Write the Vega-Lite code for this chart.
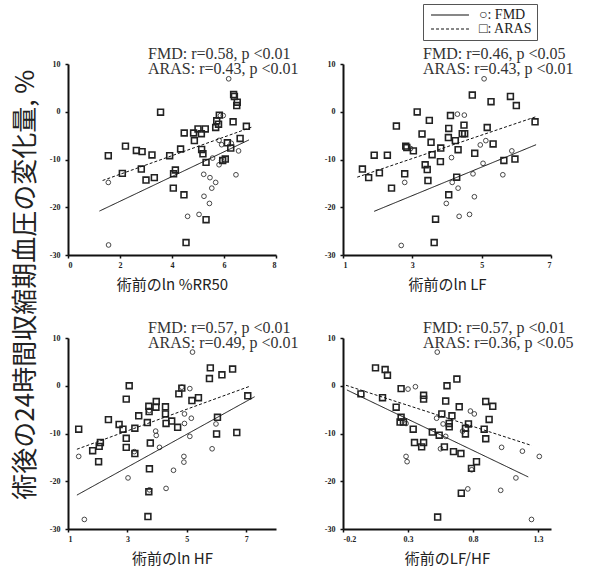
{
"$schema": "https://vega.github.io/schema/vega-lite/v6.json",
"background": "white",
"padding": {"left": 13, "top": 3, "right": 5, "bottom": 5},
"title": {"text": "術後の24時間収縮期血圧の変化量, %", "orient": "left", "anchor": "middle", "frame": "bounds", "font": "Noto Sans CJK JP", "fontSize": 26, "fontWeight": "normal", "color": "#222", "dx": 0, "offset": 10},
"datasets": {
"pts": [
{"panel":"p1","group":"ARAS","x":1.55,"y":-9.2},{"panel":"p1","group":"ARAS","x":2.21,"y":-7.2},{"panel":"p1","group":"ARAS","x":2.09,"y":-12.9},{"panel":"p1","group":"ARAS","x":2.63,"y":-8.1},{"panel":"p1","group":"ARAS","x":2.85,"y":-8.35},{"panel":"p1","group":"ARAS","x":2.82,"y":-12.0},{"panel":"p1","group":"ARAS","x":3.0,"y":-14.3},{"panel":"p1","group":"ARAS","x":3.23,"y":-9.05},{"panel":"p1","group":"ARAS","x":3.32,"y":-13.8},{"panel":"p1","group":"ARAS","x":3.56,"y":-0.1},{"panel":"p1","group":"ARAS","x":3.91,"y":-9.2},{"panel":"p1","group":"ARAS","x":4.05,"y":-16.0},{"panel":"p1","group":"ARAS","x":4.13,"y":-12.2},{"panel":"p1","group":"ARAS","x":4.06,"y":-13.0},{"panel":"p1","group":"ARAS","x":4.33,"y":-7.8},{"panel":"p1","group":"ARAS","x":4.47,"y":-4.45},{"panel":"p1","group":"ARAS","x":4.46,"y":-17.4},{"panel":"p1","group":"ARAS","x":4.54,"y":-27.4},{"panel":"p1","group":"ARAS","x":4.86,"y":-6.05},{"panel":"p1","group":"ARAS","x":4.83,"y":-4.45},{"panel":"p1","group":"ARAS","x":5.0,"y":-3.6},{"panel":"p1","group":"ARAS","x":5.13,"y":-4.6},{"panel":"p1","group":"ARAS","x":5.28,"y":-3.6},{"panel":"p1","group":"ARAS","x":5.14,"y":-7.9},{"panel":"p1","group":"ARAS","x":5.19,"y":-8.8},{"panel":"p1","group":"ARAS","x":5.31,"y":-10.6},{"panel":"p1","group":"ARAS","x":5.31,"y":-22.6},{"panel":"p1","group":"ARAS","x":5.68,"y":-3.3},{"panel":"p1","group":"ARAS","x":5.72,"y":-1.9},{"panel":"p1","group":"ARAS","x":5.79,"y":-2.6},{"panel":"p1","group":"ARAS","x":5.82,"y":-0.7},{"panel":"p1","group":"ARAS","x":6.05,"y":-9.9},{"panel":"p1","group":"ARAS","x":5.95,"y":-10.2},{"panel":"p1","group":"ARAS","x":6.26,"y":-7.6},{"panel":"p1","group":"ARAS","x":6.13,"y":-6.5},{"panel":"p1","group":"ARAS","x":6.35,"y":-2.1},{"panel":"p1","group":"ARAS","x":6.37,"y":3.6},{"panel":"p1","group":"ARAS","x":6.4,"y":3.2},{"panel":"p1","group":"ARAS","x":6.51,"y":2.0},{"panel":"p1","group":"ARAS","x":6.49,"y":1.3},{"panel":"p1","group":"ARAS","x":6.62,"y":-5.6},{"panel":"p1","group":"ARAS","x":6.86,"y":-3.05},
{"panel":"p1","group":"FMD","x":1.55,"y":-14.8},{"panel":"p1","group":"FMD","x":1.56,"y":-27.9},{"panel":"p1","group":"FMD","x":4.6,"y":-21.9},{"panel":"p1","group":"FMD","x":5.04,"y":-21.5},{"panel":"p1","group":"FMD","x":5.22,"y":-13.1},{"panel":"p1","group":"FMD","x":5.46,"y":-13.8},{"panel":"p1","group":"FMD","x":5.68,"y":-14.8},{"panel":"p1","group":"FMD","x":5.53,"y":-16.0},{"panel":"p1","group":"FMD","x":5.23,"y":-17.7},{"panel":"p1","group":"FMD","x":5.44,"y":-19.2},{"panel":"p1","group":"FMD","x":5.56,"y":-9.7},{"panel":"p1","group":"FMD","x":5.81,"y":-11.1},{"panel":"p1","group":"FMD","x":5.91,"y":-10.2},{"panel":"p1","group":"FMD","x":5.81,"y":-6.0},{"panel":"p1","group":"FMD","x":5.91,"y":-6.9},{"panel":"p1","group":"FMD","x":5.97,"y":-0.8},{"panel":"p1","group":"FMD","x":5.86,"y":-0.8},{"panel":"p1","group":"FMD","x":6.18,"y":6.9},{"panel":"p1","group":"FMD","x":6.56,"y":-8.2},{"panel":"p1","group":"FMD","x":6.46,"y":-13.2},{"panel":"p1","group":"FMD","x":6.28,"y":-6.6},
{"panel":"p2","group":"ARAS","x":1.56,"y":-12.0},{"panel":"p2","group":"ARAS","x":1.74,"y":-13.8},{"panel":"p2","group":"ARAS","x":1.9,"y":-9.1},{"panel":"p2","group":"ARAS","x":2.05,"y":-12.8},{"panel":"p2","group":"ARAS","x":2.28,"y":-9.1},{"panel":"p2","group":"ARAS","x":2.4,"y":-16.0},{"panel":"p2","group":"ARAS","x":2.54,"y":-3.0},{"panel":"p2","group":"ARAS","x":2.78,"y":-13.0},{"panel":"p2","group":"ARAS","x":2.81,"y":-7.2},{"panel":"p2","group":"ARAS","x":2.84,"y":-7.5},{"panel":"p2","group":"ARAS","x":3.03,"y":-8.2},{"panel":"p2","group":"ARAS","x":3.14,"y":-0.05},{"panel":"p2","group":"ARAS","x":3.28,"y":-4.65},{"panel":"p2","group":"ARAS","x":3.37,"y":-11.1},{"panel":"p2","group":"ARAS","x":3.43,"y":-12.1},{"panel":"p2","group":"ARAS","x":3.45,"y":-14.4},{"panel":"p2","group":"ARAS","x":3.49,"y":-1.8},{"panel":"p2","group":"ARAS","x":3.54,"y":-6.4},{"panel":"p2","group":"ARAS","x":3.57,"y":-9.0},{"panel":"p2","group":"ARAS","x":3.67,"y":-22.5},{"panel":"p2","group":"ARAS","x":3.63,"y":-27.4},{"panel":"p2","group":"ARAS","x":3.82,"y":-7.6},{"panel":"p2","group":"ARAS","x":3.81,"y":-10.45},{"panel":"p2","group":"ARAS","x":4.05,"y":-3.5},{"panel":"p2","group":"ARAS","x":4.04,"y":-5.4},{"panel":"p2","group":"ARAS","x":4.1,"y":-0.8},{"panel":"p2","group":"ARAS","x":4.24,"y":-6.05},{"panel":"p2","group":"ARAS","x":4.28,"y":-13.7},{"panel":"p2","group":"ARAS","x":4.32,"y":-7.95},{"panel":"p2","group":"ARAS","x":4.05,"y":-17.4},{"panel":"p2","group":"ARAS","x":4.44,"y":-4.6},{"panel":"p2","group":"ARAS","x":4.49,"y":-2.8},{"panel":"p2","group":"ARAS","x":4.51,"y":-4.6},{"panel":"p2","group":"ARAS","x":4.73,"y":3.5},{"panel":"p2","group":"ARAS","x":4.8,"y":-8.7},{"panel":"p2","group":"ARAS","x":5.16,"y":-3.3},{"panel":"p2","group":"ARAS","x":5.27,"y":2.1},{"panel":"p2","group":"ARAS","x":5.33,"y":-6.75},{"panel":"p2","group":"ARAS","x":5.64,"y":-10.2},{"panel":"p2","group":"ARAS","x":5.83,"y":3.2},{"panel":"p2","group":"ARAS","x":5.96,"y":-9.9},{"panel":"p2","group":"ARAS","x":6.0,"y":1.3},{"panel":"p2","group":"ARAS","x":6.54,"y":-2.1},
{"panel":"p2","group":"FMD","x":2.68,"y":-28.0},{"panel":"p2","group":"FMD","x":2.78,"y":-14.8},{"panel":"p2","group":"FMD","x":2.95,"y":-7.7},{"panel":"p2","group":"FMD","x":3.98,"y":-19.2},{"panel":"p2","group":"FMD","x":4.13,"y":-9.6},{"panel":"p2","group":"FMD","x":4.15,"y":-14.8},{"panel":"p2","group":"FMD","x":4.3,"y":-0.5},{"panel":"p2","group":"FMD","x":4.32,"y":-16.0},{"panel":"p2","group":"FMD","x":4.35,"y":-21.9},{"panel":"p2","group":"FMD","x":4.5,"y":-0.7},{"panel":"p2","group":"FMD","x":4.65,"y":-21.5},{"panel":"p2","group":"FMD","x":4.75,"y":-13.0},{"panel":"p2","group":"FMD","x":4.79,"y":-17.8},{"panel":"p2","group":"FMD","x":4.96,"y":-6.95},{"panel":"p2","group":"FMD","x":5.04,"y":-10.8},{"panel":"p2","group":"FMD","x":5.12,"y":-6.05},{"panel":"p2","group":"FMD","x":5.07,"y":6.9},{"panel":"p2","group":"FMD","x":5.61,"y":-13.2},{"panel":"p2","group":"FMD","x":5.87,"y":-8.2},
{"panel":"p3","group":"ARAS","x":1.36,"y":-9.1},{"panel":"p3","group":"ARAS","x":1.83,"y":-13.6},{"panel":"p3","group":"ARAS","x":2.03,"y":-15.9},{"panel":"p3","group":"ARAS","x":2.09,"y":-11.9},{"panel":"p3","group":"ARAS","x":2.05,"y":-12.7},{"panel":"p3","group":"ARAS","x":2.36,"y":-7.1},{"panel":"p3","group":"ARAS","x":2.72,"y":-8.1},{"panel":"p3","group":"ARAS","x":2.85,"y":-9.1},{"panel":"p3","group":"ARAS","x":2.96,"y":-2.8},{"panel":"p3","group":"ARAS","x":2.96,"y":-11.0},{"panel":"p3","group":"ARAS","x":2.96,"y":-12.9},{"panel":"p3","group":"ARAS","x":3.06,"y":0.0},{"panel":"p3","group":"ARAS","x":3.25,"y":-8.9},{"panel":"p3","group":"ARAS","x":3.25,"y":-14.2},{"panel":"p3","group":"ARAS","x":3.38,"y":-6.3},{"panel":"p3","group":"ARAS","x":3.67,"y":-7.7},{"panel":"p3","group":"ARAS","x":3.72,"y":-4.3},{"panel":"p3","group":"ARAS","x":3.73,"y":-5.4},{"panel":"p3","group":"ARAS","x":3.77,"y":-12.0},{"panel":"p3","group":"ARAS","x":3.74,"y":-17.4},{"panel":"p3","group":"ARAS","x":3.72,"y":-22.2},{"panel":"p3","group":"ARAS","x":3.69,"y":-27.4},{"panel":"p3","group":"ARAS","x":3.97,"y":-3.3},{"panel":"p3","group":"ARAS","x":3.96,"y":-4.5},{"panel":"p3","group":"ARAS","x":4.28,"y":-4.4},{"panel":"p3","group":"ARAS","x":4.28,"y":-5.9},{"panel":"p3","group":"ARAS","x":4.3,"y":-7.9},{"panel":"p3","group":"ARAS","x":4.49,"y":-7.4},{"panel":"p3","group":"ARAS","x":4.69,"y":-8.7},{"panel":"p3","group":"ARAS","x":4.73,"y":-1.7},{"panel":"p3","group":"ARAS","x":4.83,"y":-0.5},{"panel":"p3","group":"ARAS","x":5.17,"y":-3.1},{"panel":"p3","group":"ARAS","x":5.39,"y":-2.5},{"panel":"p3","group":"ARAS","x":5.76,"y":1.5},{"panel":"p3","group":"ARAS","x":5.79,"y":3.75},{"panel":"p3","group":"ARAS","x":6.03,"y":-6.6},{"panel":"p3","group":"ARAS","x":6.0,"y":-10.1},{"panel":"p3","group":"ARAS","x":6.18,"y":2.3},{"panel":"p3","group":"ARAS","x":6.54,"y":3.5},{"panel":"p3","group":"ARAS","x":6.68,"y":-9.8},{"panel":"p3","group":"ARAS","x":7.05,"y":-2.1},
{"panel":"p3","group":"FMD","x":1.36,"y":-14.8},{"panel":"p3","group":"FMD","x":1.55,"y":-28.0},{"panel":"p3","group":"FMD","x":3.02,"y":-19.3},{"panel":"p3","group":"FMD","x":3.23,"y":-13.8},{"panel":"p3","group":"FMD","x":3.73,"y":-5.2},{"panel":"p3","group":"FMD","x":3.74,"y":-21.8},{"panel":"p3","group":"FMD","x":3.95,"y":-9.5},{"panel":"p3","group":"FMD","x":3.97,"y":-10.4},{"panel":"p3","group":"FMD","x":4.08,"y":-12.9},{"panel":"p3","group":"FMD","x":4.3,"y":-21.5},{"panel":"p3","group":"FMD","x":4.55,"y":-17.7},{"panel":"p3","group":"FMD","x":4.9,"y":-14.8},{"panel":"p3","group":"FMD","x":4.9,"y":-16.0},{"panel":"p3","group":"FMD","x":4.92,"y":-5.9},{"panel":"p3","group":"FMD","x":4.92,"y":-7.9},{"panel":"p3","group":"FMD","x":4.83,"y":-0.3},{"panel":"p3","group":"FMD","x":5.1,"y":-0.6},{"panel":"p3","group":"FMD","x":5.15,"y":-6.8},{"panel":"p3","group":"FMD","x":5.1,"y":-10.6},{"panel":"p3","group":"FMD","x":5.19,"y":7.05},{"panel":"p3","group":"FMD","x":5.85,"y":-13.2},{"panel":"p3","group":"FMD","x":5.98,"y":-8.0},
{"panel":"p4","group":"ARAS","x":-0.062,"y":-1.7},{"panel":"p4","group":"ARAS","x":0.05,"y":3.75},{"panel":"p4","group":"ARAS","x":0.124,"y":3.4},{"panel":"p4","group":"ARAS","x":0.142,"y":2.2},{"panel":"p4","group":"ARAS","x":0.104,"y":-2.5},{"panel":"p4","group":"ARAS","x":0.209,"y":-4.5},{"panel":"p4","group":"ARAS","x":0.247,"y":-0.6},{"panel":"p4","group":"ARAS","x":0.239,"y":-7.6},{"panel":"p4","group":"ARAS","x":0.265,"y":-7.6},{"panel":"p4","group":"ARAS","x":0.247,"y":-6.6},{"panel":"p4","group":"ARAS","x":0.34,"y":-9.1},{"panel":"p4","group":"ARAS","x":0.35,"y":-11.9},{"panel":"p4","group":"ARAS","x":0.42,"y":-11.9},{"panel":"p4","group":"ARAS","x":0.405,"y":-12.8},{"panel":"p4","group":"ARAS","x":0.42,"y":-2.0},{"panel":"p4","group":"ARAS","x":0.42,"y":-2.8},{"panel":"p4","group":"ARAS","x":0.487,"y":-9.7},{"panel":"p4","group":"ARAS","x":0.54,"y":-10.35},{"panel":"p4","group":"ARAS","x":0.528,"y":-27.5},{"panel":"p4","group":"ARAS","x":0.59,"y":-3.2},{"panel":"p4","group":"ARAS","x":0.6,"y":0.0},{"panel":"p4","group":"ARAS","x":0.56,"y":-5.9},{"panel":"p4","group":"ARAS","x":0.617,"y":-7.9},{"panel":"p4","group":"ARAS","x":0.617,"y":-8.6},{"panel":"p4","group":"ARAS","x":0.638,"y":-6.3},{"panel":"p4","group":"ARAS","x":0.58,"y":-12.8},{"panel":"p4","group":"ARAS","x":0.65,"y":-13.8},{"panel":"p4","group":"ARAS","x":0.676,"y":1.4},{"panel":"p4","group":"ARAS","x":0.694,"y":-4.4},{"panel":"p4","group":"ARAS","x":0.707,"y":-14.2},{"panel":"p4","group":"ARAS","x":0.71,"y":-22.5},{"panel":"p4","group":"ARAS","x":0.765,"y":-8.0},{"panel":"p4","group":"ARAS","x":0.742,"y":-8.9},{"panel":"p4","group":"ARAS","x":0.742,"y":-10.1},{"panel":"p4","group":"ARAS","x":0.827,"y":-15.9},{"panel":"p4","group":"ARAS","x":0.788,"y":-17.3},{"panel":"p4","group":"ARAS","x":0.886,"y":-9.1},{"panel":"p4","group":"ARAS","x":0.898,"y":-11.1},{"panel":"p4","group":"ARAS","x":0.898,"y":-3.3},{"panel":"p4","group":"ARAS","x":0.924,"y":-7.05},{"panel":"p4","group":"ARAS","x":0.952,"y":-4.3},
{"panel":"p4","group":"FMD","x":0.525,"y":7.05},{"panel":"p4","group":"FMD","x":0.3,"y":-0.7},{"panel":"p4","group":"FMD","x":0.357,"y":-0.2},{"panel":"p4","group":"FMD","x":0.285,"y":-14.8},{"panel":"p4","group":"FMD","x":0.293,"y":-15.9},{"panel":"p4","group":"FMD","x":0.285,"y":-7.9},{"panel":"p4","group":"FMD","x":0.52,"y":-6.8},{"panel":"p4","group":"FMD","x":0.57,"y":-8.0},{"panel":"p4","group":"FMD","x":0.59,"y":-10.6},{"panel":"p4","group":"FMD","x":0.55,"y":-13.2},{"panel":"p4","group":"FMD","x":0.78,"y":-5.3},{"panel":"p4","group":"FMD","x":0.81,"y":-5.9},{"panel":"p4","group":"FMD","x":0.72,"y":-9.5},{"panel":"p4","group":"FMD","x":0.79,"y":-17.6},{"panel":"p4","group":"FMD","x":0.76,"y":-21.6},{"panel":"p4","group":"FMD","x":1.013,"y":-21.9},{"panel":"p4","group":"FMD","x":1.02,"y":-12.9},{"panel":"p4","group":"FMD","x":1.18,"y":-13.7},{"panel":"p4","group":"FMD","x":1.13,"y":-19.3},{"panel":"p4","group":"FMD","x":1.25,"y":-28.0},{"panel":"p4","group":"FMD","x":1.31,"y":-14.8}
],
"fit": [
{"panel":"p1","group":"FMD","x":1.21,"y":-20.8},{"panel":"p1","group":"FMD","x":6.96,"y":-5.9},{"panel":"p1","group":"ARAS","x":1.33,"y":-14.4},{"panel":"p1","group":"ARAS","x":7.08,"y":-3.2},
{"panel":"p2","group":"FMD","x":1.9,"y":-20.85},{"panel":"p2","group":"FMD","x":6.57,"y":-6.9},{"panel":"p2","group":"ARAS","x":1.41,"y":-13.7},{"panel":"p2","group":"ARAS","x":6.6,"y":-0.96},
{"panel":"p3","group":"FMD","x":1.3,"y":-22.9},{"panel":"p3","group":"FMD","x":7.28,"y":-2.3},{"panel":"p3","group":"ARAS","x":1.3,"y":-13.3},{"panel":"p3","group":"ARAS","x":7.1,"y":-0.15},
{"panel":"p4","group":"FMD","x":-0.17,"y":-0.88},{"panel":"p4","group":"FMD","x":1.225,"y":-19.1},{"panel":"p4","group":"ARAS","x":-0.177,"y":0.1},{"panel":"p4","group":"ARAS","x":1.25,"y":-12.5}
]
},
"columns": 2,
"spacing": {"row": 83, "column": 67},
"bounds": "flush",
"resolve": {"scale": {"x": "independent", "y": "independent"}},
"concat": [
{
"width": 208, "height": 191,
"title": {"text": ["FMD: r=0.58, p <0.01", "ARAS: r=0.43, p <0.01"]},
"layer": [
{"data": {"name": "pts"}, "transform": [{"filter": "datum.panel == 'p1' && datum.group == 'FMD'"}],
 "mark": {"type": "point", "shape": "circle", "filled": false, "size": 22, "strokeWidth": 0.9, "color": "#333", "opacity": 1},
 "encoding": {"x": {"field": "x", "type": "quantitative", "scale": {"domain": [0, 8], "nice": false, "zero": false}, "axis": {"values": [0, 2, 4, 6, 8], "title": "術前のln %RR50"}}, "y": {"field": "y", "type": "quantitative", "scale": {"domain": [-30, 10], "nice": false}, "axis": {"values": [-30, -20, -10, 0, 10]}}}},
{"data": {"name": "pts"}, "transform": [{"filter": "datum.panel == 'p1' && datum.group == 'ARAS'"}],
 "mark": {"type": "point", "shape": "square", "filled": false, "size": 34, "strokeWidth": 1.6, "color": "#222", "opacity": 1},
 "encoding": {"x": {"field": "x", "type": "quantitative"}, "y": {"field": "y", "type": "quantitative"}}},
{"data": {"name": "fit"}, "transform": [{"filter": "datum.panel == 'p1'"}],
 "mark": {"type": "line", "color": "#111", "strokeWidth": 1},
 "encoding": {"x": {"field": "x", "type": "quantitative"}, "y": {"field": "y", "type": "quantitative"},
  "strokeDash": {"field": "group", "type": "nominal", "scale": {"domain": ["FMD", "ARAS"], "range": [[1, 0], [3, 2]]}, "legend": {"title": null, "orient": "none", "legendX": 355, "legendY": -60, "labelExpr": "datum.label == 'FMD' ? '○: FMD' : '□: ARAS'"}}}}
]
},
{
"width": 208, "height": 191,
"title": {"text": ["FMD: r=0.46, p <0.05", "ARAS: r=0.43, p <0.01"]},
"layer": [
{"data": {"name": "pts"}, "transform": [{"filter": "datum.panel == 'p2' && datum.group == 'FMD'"}],
 "mark": {"type": "point", "shape": "circle", "filled": false, "size": 22, "strokeWidth": 0.9, "color": "#333", "opacity": 1},
 "encoding": {"x": {"field": "x", "type": "quantitative", "scale": {"domain": [1, 7], "nice": false, "zero": false}, "axis": {"values": [1, 3, 5, 7], "title": "術前のln LF"}}, "y": {"field": "y", "type": "quantitative", "scale": {"domain": [-30, 10], "nice": false}, "axis": {"values": [-30, -20, -10, 0, 10]}}}},
{"data": {"name": "pts"}, "transform": [{"filter": "datum.panel == 'p2' && datum.group == 'ARAS'"}],
 "mark": {"type": "point", "shape": "square", "filled": false, "size": 34, "strokeWidth": 1.6, "color": "#222", "opacity": 1},
 "encoding": {"x": {"field": "x", "type": "quantitative"}, "y": {"field": "y", "type": "quantitative"}}},
{"data": {"name": "fit"}, "transform": [{"filter": "datum.panel == 'p2'"}],
 "mark": {"type": "line", "color": "#111", "strokeWidth": 1},
 "encoding": {"x": {"field": "x", "type": "quantitative"}, "y": {"field": "y", "type": "quantitative"},
  "strokeDash": {"field": "group", "type": "nominal", "scale": {"domain": ["FMD", "ARAS"], "range": [[1, 0], [3, 2]]}, "legend": {"title": null, "orient": "none", "legendX": 355, "legendY": -60, "labelExpr": "datum.label == 'FMD' ? '○: FMD' : '□: ARAS'"}}}}
]
},
{
"width": 208, "height": 191,
"title": {"text": ["FMD: r=0.57, p <0.01", "ARAS: r=0.49, p <0.01"]},
"layer": [
{"data": {"name": "pts"}, "transform": [{"filter": "datum.panel == 'p3' && datum.group == 'FMD'"}],
 "mark": {"type": "point", "shape": "circle", "filled": false, "size": 22, "strokeWidth": 0.9, "color": "#333", "opacity": 1},
 "encoding": {"x": {"field": "x", "type": "quantitative", "scale": {"domain": [1, 8], "nice": false, "zero": false}, "axis": {"values": [1, 3, 5, 7], "title": "術前のln HF"}}, "y": {"field": "y", "type": "quantitative", "scale": {"domain": [-30, 10], "nice": false}, "axis": {"values": [-30, -20, -10, 0, 10]}}}},
{"data": {"name": "pts"}, "transform": [{"filter": "datum.panel == 'p3' && datum.group == 'ARAS'"}],
 "mark": {"type": "point", "shape": "square", "filled": false, "size": 34, "strokeWidth": 1.6, "color": "#222", "opacity": 1},
 "encoding": {"x": {"field": "x", "type": "quantitative"}, "y": {"field": "y", "type": "quantitative"}}},
{"data": {"name": "fit"}, "transform": [{"filter": "datum.panel == 'p3'"}],
 "mark": {"type": "line", "color": "#111", "strokeWidth": 1},
 "encoding": {"x": {"field": "x", "type": "quantitative"}, "y": {"field": "y", "type": "quantitative"},
  "strokeDash": {"field": "group", "type": "nominal", "scale": {"domain": ["FMD", "ARAS"], "range": [[1, 0], [3, 2]]}, "legend": {"title": null, "orient": "none", "legendX": 355, "legendY": -60, "labelExpr": "datum.label == 'FMD' ? '○: FMD' : '□: ARAS'"}}}}
]
},
{
"width": 208, "height": 191,
"title": {"text": ["FMD: r=0.57, p <0.01", "ARAS: r=0.36, p <0.05"]},
"layer": [
{"data": {"name": "pts"}, "transform": [{"filter": "datum.panel == 'p4' && datum.group == 'FMD'"}],
 "mark": {"type": "point", "shape": "circle", "filled": false, "size": 22, "strokeWidth": 0.9, "color": "#333", "opacity": 1},
 "encoding": {"x": {"field": "x", "type": "quantitative", "scale": {"domain": [-0.2, 1.4], "nice": false, "zero": false}, "axis": {"values": [-0.2, 0.3, 0.8, 1.3], "title": "術前のLF/HF", "labelExpr": "datum.value < 0 ? '-' + format(-datum.value, '.1f') : format(datum.value, '.1f')"}}, "y": {"field": "y", "type": "quantitative", "scale": {"domain": [-30, 10], "nice": false}, "axis": {"values": [-30, -20, -10, 0, 10]}}}},
{"data": {"name": "pts"}, "transform": [{"filter": "datum.panel == 'p4' && datum.group == 'ARAS'"}],
 "mark": {"type": "point", "shape": "square", "filled": false, "size": 34, "strokeWidth": 1.6, "color": "#222", "opacity": 1},
 "encoding": {"x": {"field": "x", "type": "quantitative"}, "y": {"field": "y", "type": "quantitative"}}},
{"data": {"name": "fit"}, "transform": [{"filter": "datum.panel == 'p4'"}],
 "mark": {"type": "line", "color": "#111", "strokeWidth": 1},
 "encoding": {"x": {"field": "x", "type": "quantitative"}, "y": {"field": "y", "type": "quantitative"},
  "strokeDash": {"field": "group", "type": "nominal", "scale": {"domain": ["FMD", "ARAS"], "range": [[1, 0], [3, 2]]}, "legend": {"title": null, "orient": "none", "legendX": 355, "legendY": -60, "labelExpr": "datum.label == 'FMD' ? '○: FMD' : '□: ARAS'"}}}}
]
}
],
"config": {
 "view": {"stroke": null},
 "axis": {"grid": false, "domainColor": "#111", "domainWidth": 2, "tickColor": "#111", "tickSize": 3, "tickWidth": 1.5, "labelFont": "Liberation Serif", "labelFontWeight": "bold", "labelFontSize": 8, "labelColor": "#222", "titleFont": "Noto Sans CJK JP", "titleFontSize": 15, "titleFontWeight": "normal", "titleColor": "#222"},
 "axisX": {"labelPadding": 3, "titlePadding": 8, "labelExpr": "datum.value < 0 ? '-' + format(-datum.value, 'd') : format(datum.value, 'd')"},
 "axisY": {"labelPadding": 5, "title": null, "labelExpr": "datum.value < 0 ? '-' + format(-datum.value, 'd') : format(datum.value, 'd')"},
 "title": {"font": "Liberation Serif", "fontSize": 16, "fontWeight": "normal", "color": "#333", "anchor": "start", "frame": "group", "lineHeight": 15, "dx": 80, "offset": -17},
 "legend": {"symbolType": "M-4,0H4", "symbolSize": 90, "symbolOffset": 16, "symbolStrokeWidth": 1.2, "symbolStrokeColor": "#111", "labelFont": "Liberation Serif, DejaVu Sans", "labelFontSize": 14, "labelColor": "#222", "labelOffset": 22, "strokeColor": "#555", "padding": 4, "rowPadding": 0}
}
}
